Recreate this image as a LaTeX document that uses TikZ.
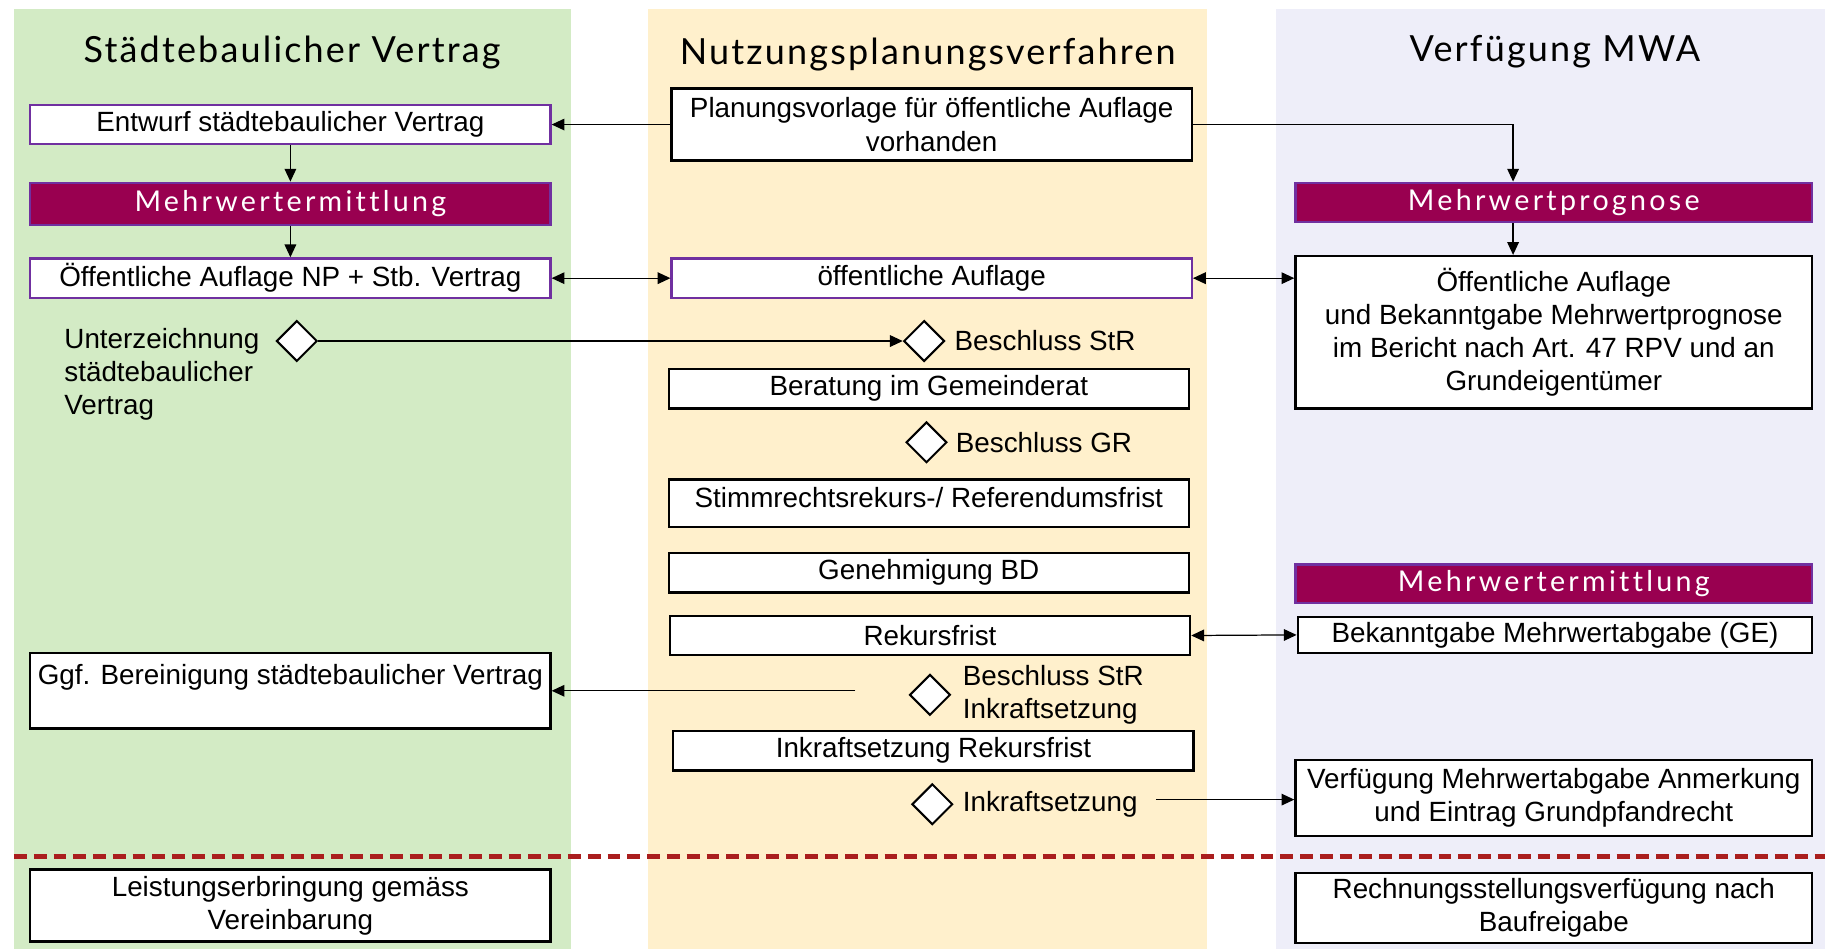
\documentclass[tikz,border=0pt]{standalone}
\usepackage{fontspec}
\setmainfont{Liberation Sans}
\newfontfamily\lanefont[LetterSpace=6]{Lato}
\newfontfamily\phasefont[LetterSpace=11.5, Ligatures=CommonOff]{Lato}
\usetikzlibrary{positioning, arrows.meta, shapes.geometric}
\definecolor{laneGreen}{RGB}{211,235,197}
\definecolor{laneYellow}{RGB}{255,240,204}
\definecolor{laneBlue}{RGB}{238,238,249}
\definecolor{maroon}{RGB}{153,0,80}
\definecolor{purpleline}{RGB}{112,48,160}
\definecolor{cutred}{RGB}{170,30,30}
\tikzstyle{task} = [
    rectangle, draw=black, line width=1.1pt, fill=white,
    minimum width=8.94cm, minimum height=0.68cm, % most boxes
    inner sep=0pt, align=center, font=\fontsize{13.6}{16.2}\selectfont
]
\tikzstyle{pbox} = [task, draw=purpleline]
\tikzstyle{phase} = [
    task, draw=purpleline, fill=maroon, text=white,
    font=\phasefont\fontsize{14}{16}\selectfont
]
\tikzstyle{milestone} = [
    diamond, draw, fill=white, line width=1pt,
    minimum width=0.7cm, minimum height=0.7cm, inner sep=0pt
]
\tikzstyle{label} = [inner sep=0pt, align=left, font=\fontsize{13.6}{16.2}\selectfont]
\tikzstyle{lanetitle} = [font=\lanefont\fontsize{17.6}{20}\selectfont]
\tikzstyle{flow} = [-{Triangle[length=2.2mm, width=2mm]}, line width=0.6pt]
\tikzstyle{flowboth} = [{Triangle[length=2.2mm, width=2mm]}-{Triangle[length=2.2mm, width=2mm]}, line width=0.6pt]

\begin{document}
\begin{tikzpicture}[x=0.2mm, y=-0.2mm, node distance=0.15cm]
        \useasboundingbox (0,0) rectangle (1568,815);
        % Lanes
        \fill[laneGreen] (12,8) rectangle (491,815);
        \fill[laneYellow] (557,8) rectangle (1037,815);
        \fill[laneBlue] (1096,8) rectangle (1568,815);

        % Lane titles
        \node[lanetitle] (titleVertrag) at (251,45) {Städtebaulicher Vertrag};
        \node[lanetitle] (titleNP) at (797,47) {Nutzungsplanungsverfahren};
        \node[lanetitle] (titleMWA) at (1336,44) {Verfügung MWA};

        % Städtebaulicher Vertrag
        \node[pbox] (entwurf) at (249.5,107) {Entwurf städtebaulicher Vertrag};
        \node[phase, minimum height=0.72cm] (ermittlungSV) at (249.5,175) {Mehrwertermittlung};
        \node[pbox] (auflageNP) at (249.5,239) {Öffentliche Auflage NP + Stb. Vertrag};
        \node[milestone] (unterz) at (255,293) {};
        \node[label, anchor=west] (unterzText) at (55,321.5) {Unterzeichnung\\städtebaulicher\\Vertrag};
        \node[task, minimum height=1.3cm] (bereinigung) at (249.5,593.5) {Ggf. Bereinigung städtebaulicher Vertrag\\ \mbox{}};
        \node[task, minimum height=1.24cm] (leistung) at (249.5,778) {Leistungserbringung gemäss\\Vereinbarung};

        % Nutzungsplanungsverfahren
        \node[task, minimum height=1.24cm] (vorlage) at (800.5,107) {Planungsvorlage für öffentliche Auflage\\vorhanden};
        \node[pbox] (auflage) at (800.5,239) {öffentliche Auflage};
        \node[milestone] (beschlussStR) at (794,293) {};
        \node[label, right=of beschlussStR] (beschlussStRText) {Beschluss StR};
        \node[task] (beratung) at (798,334) {Beratung im Gemeinderat};
        \node[milestone] (beschlussGR) at (796,380) {};
        \node[label, right=0.13cm of beschlussGR] (beschlussGRText) {Beschluss GR};
        \node[task, minimum height=0.82cm, text depth=6pt] (stimmrecht) at (798,432.5) {Stimmrechtsrekurs-/ Referendumsfrist};
        \node[task] (genehmigung) at (798,492) {Genehmigung BD};
        \node[task] (rekursfrist) at (799,546) {Rekursfrist};
        \node[milestone] (beschlussInkr) at (799,597) {};
        \node[label, right=0.19cm of beschlussInkr] (beschlussInkrText) {Beschluss StR\\Inkraftsetzung};
        \node[task] (inkrRekurs) at (802,645) {Inkraftsetzung Rekursfrist};
        \node[milestone] (inkraft) at (801,691) {};
        \node[label, right=of inkraft] (inkraftText) {Inkraftsetzung};
        \coordinate (bereinigungStart) at (735,593.5);
        \coordinate (inkraftStart) at (993,687);

        % Verfuegung MWA
        \node[phase, minimum width=8.88cm] (prognose) at (1335,174) {Mehrwertprognose};
        \node[task, minimum width=8.88cm, minimum height=2.62cm] (auflageMWA) at (1335,285.5) {Öffentliche Auflage\\und Bekanntgabe Mehrwertprognose\\im Bericht nach Art. 47 RPV und an\\Grundeigentümer};
        \node[phase, minimum width=8.88cm, minimum height=0.66cm] (ermittlungMWA) at (1335,501.5) {Mehrwertermittlung};
        \node[task, minimum width=8.84cm, minimum height=0.62cm] (bekanntgabe) at (1336,545.5) {Bekanntgabe Mehrwertabgabe (GE)};
        \node[task, minimum width=8.88cm, minimum height=1.3cm] (verfuegung) at (1335,685.5) {Verfügung Mehrwertabgabe Anmerkung\\und Eintrag Grundpfandrecht};
        \node[task, minimum width=8.88cm, minimum height=1.2cm] (rechnung) at (1335,780) {Rechnungsstellungsverfügung nach\\Baufreigabe};

        % Trennlinie
        \draw[cutred, line width=2.2pt, dash pattern=on 2.2mm off 1.2mm] (12,736) -- (1568,736);

        % Connections
        \draw[flow] (vorlage.west) -- (entwurf.east);
        \draw[flow] (vorlage.east) -| ([xshift=-0.7cm]prognose.north);
        \draw[flow] (entwurf.south) -- (ermittlungSV.north);
        \draw[flow] (ermittlungSV.south) -- (auflageNP.north);
        \draw[flowboth] (auflageNP.east) -- (auflage.west);
        \draw[flowboth] (auflage.east) -- (auflage.east -| auflageMWA.west);
        \draw[flow] ([xshift=-0.7cm]prognose.south) -- ([xshift=-0.7cm]auflageMWA.north);
        \draw[flow] (unterz.east) -- (beschlussStR.west);
        \draw[flowboth] (rekursfrist.east) -- (bekanntgabe.west);
        \draw[flow] (bereinigungStart) -- (bereinigung.east);
        \draw[flow] (inkraftStart) -- (inkraftStart -| verfuegung.west);

    \end{tikzpicture}
\end{document}
